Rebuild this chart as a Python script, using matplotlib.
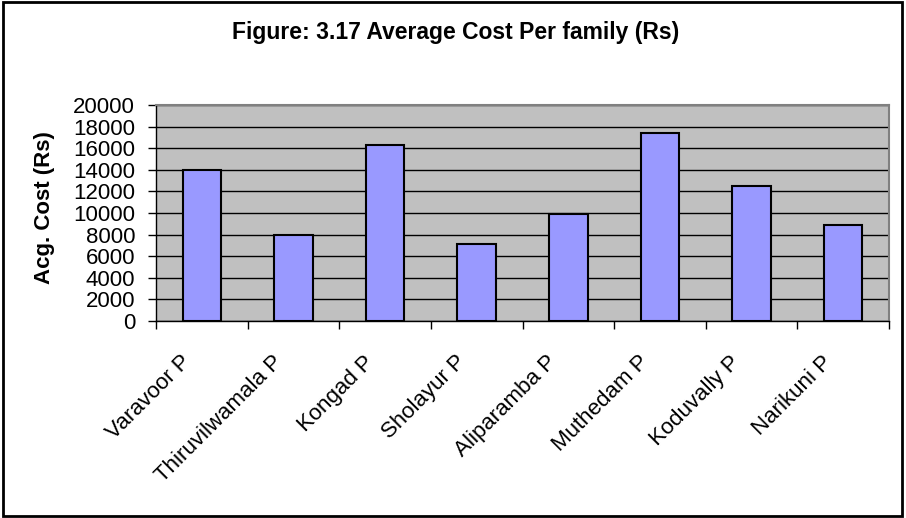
import matplotlib.pyplot as plt
from matplotlib.patches import Rectangle
from matplotlib.transforms import ScaledTranslation
import numpy as np

plt.rcParams['font.family'] = ['Liberation Sans', 'DejaVu Sans']

# Dados
locais = ['Varavoor P', 'Thiruvilwamala P', 'Kongad P', 'Sholayur P',
          'Aliparamba P', 'Muthedam P', 'Koduvally P', 'Narikuni P']
custo = [14000, 8000, 16300, 7100, 9950, 17400, 12500, 8850]
y_ticks = list(range(0, 20001, 2000))

fig = plt.figure(figsize=(9.06, 5.18), dpi=100)
ax = fig.add_axes([156/906, 1 - 321/518, (889 - 156)/906, (321 - 105)/518])

x = np.arange(len(locais))
ax.set_facecolor('#C0C0C0')
ax.set_axisbelow(True)
ax.yaxis.grid(True, color='black', linewidth=1)
ax.bar(x, custo, width=0.42, color='#9999FF', edgecolor='black', linewidth=1.5, zorder=3)

ax.set_xlim(-0.5, len(locais) - 0.5)
ax.set_ylim(0, 20000)
ax.set_yticks(y_ticks)
ax.tick_params(axis='y', labelsize=16, length=6, width=1, pad=9)

# rótulos no centro, marcas nos limites das categorias
ax.set_xticks(x)
ax.set_xticklabels(locais, rotation=45, ha='right', rotation_mode='anchor', fontsize=16)
ax.tick_params(axis='x', which='major', length=0, pad=22)
ax.set_xticks(np.arange(-0.5, len(locais)), minor=True)
ax.tick_params(axis='x', which='minor', length=6, width=1)
desloc = ScaledTranslation(-22/100, 0, fig.dpi_scale_trans)
for lab in ax.get_xticklabels():
    lab.set_transform(lab.get_transform() + desloc)

for lado in ['top', 'right']:
    ax.spines[lado].set_color('#808080')
    ax.spines[lado].set_linewidth(1.5)
for lado in ['left', 'bottom']:
    ax.spines[lado].set_color('black')
    ax.spines[lado].set_linewidth(1)

fig.text(456/906, 1 - 33/518, 'Figure: 3.17 Average Cost Per family (Rs)',
         ha='center', va='center', fontsize=16.5, fontweight='bold')
fig.text(45/906, 1 - 208/518, 'Acg. Cost (Rs)', rotation=90,
         ha='center', va='center', fontsize=16, fontweight='bold')

# moldura externa
fig.patches.append(Rectangle((3/906, 2/518), 899/906, 514/518, transform=fig.transFigure,
                             fill=False, edgecolor='black', linewidth=2))

fig.savefig('out.png', dpi=100)
